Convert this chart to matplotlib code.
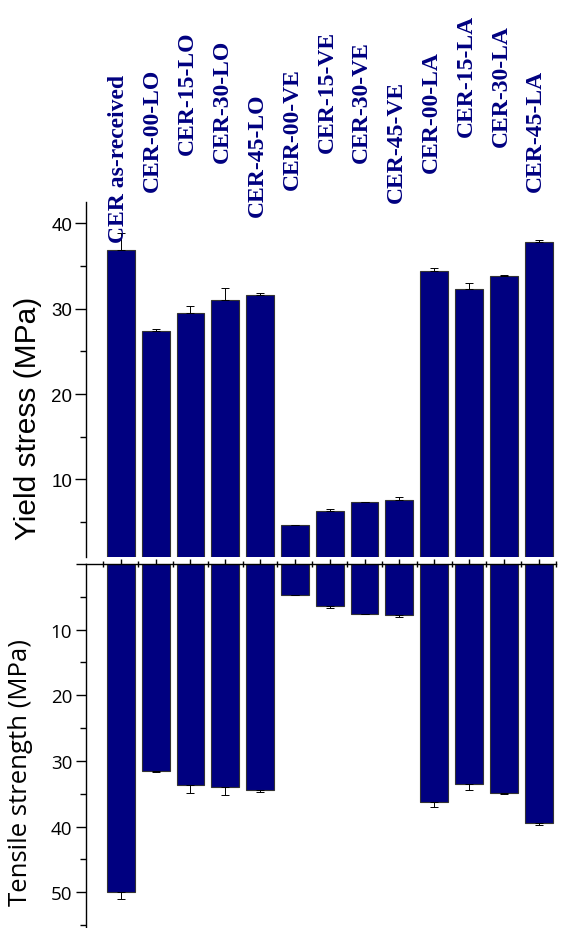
import numpy as np
import matplotlib
matplotlib.use("Agg")
import matplotlib.pyplot as plt
from matplotlib.ticker import FixedLocator, NullFormatter

## data

samples = ["CER as-received",
           "CER-00-LO", "CER-15-LO", "CER-30-LO", "CER-45-LO",
           "CER-00-VE", "CER-15-VE", "CER-30-VE", "CER-45-VE",
           "CER-00-LA", "CER-15-LA", "CER-30-LA", "CER-45-LA"]

yield_stress = [36.9, 27.35, 29.5, 31.07, 31.6, 4.6, 6.28, 7.3, 7.6, 34.4, 32.3, 33.8, 37.85]
yield_err    = [2.0, 0.25, 0.85, 1.3, 0.2, 0.05, 0.2, 0.05, 0.3, 0.4, 0.75, 0.2, 0.15]

tensile      = [50.0, 31.5, 33.6, 34.0, 34.45, 4.7, 6.34, 7.55, 7.8, 36.3, 33.5, 34.95, 39.4]
tensile_err  = [1.0, 0.25, 1.3, 1.2, 0.25, 0.05, 0.3, 0.05, 0.3, 0.7, 1.0, 0.15, 0.4]

# bottom end of each sample name, pixels from the top edge
label_bottom = [243, 192, 155, 163, 217, 190, 153, 163, 203, 173, 137, 147, 192]

## style

W, H, DPI = 565, 929, 100
navy = "#000080"
bar_w = 0.8

fig = plt.figure(figsize=(W / DPI, H / DPI), dpi=DPI)
left, right = 86 / W, 556 / W
ax1 = fig.add_axes([left, 1 - 558 / H, right - left, (558 - 203) / H])
ax2 = fig.add_axes([left, 1 - 928 / H, right - left, (928 - 565) / H])

x = np.arange(len(samples))
zeros = np.zeros(len(samples))

## yield stress (top)

ax1.bar(x, yield_stress, width=bar_w, color=navy, edgecolor="#333333", linewidth=0.8, zorder=2)
ax1.errorbar(x, yield_stress, yerr=[zeros, yield_err], fmt="none", ecolor="black",
             elinewidth=0.7, capsize=3, capthick=0.7, zorder=3)
ax1.set_xlim(-1, 12.5)
ax1.set_ylim(0.9, 42.5)
for s in ["top", "right", "bottom"]:
    ax1.spines[s].set_visible(False)
ax1.spines["left"].set_linewidth(1.0)
ax1.set_xticks([])
ax1.yaxis.set_major_locator(FixedLocator([10, 20, 30, 40]))
ax1.yaxis.set_minor_locator(FixedLocator([5, 15, 25, 35]))
ax1.tick_params(axis="y", which="major", direction="out", length=8, width=1.0, pad=2)
ax1.tick_params(axis="y", which="minor", direction="out", length=4, width=1.0)
for t in ax1.get_yticklabels():
    t.set_family("Liberation Sans")
    t.set_fontsize(13.5)
ax1.set_ylabel("Yield stress (MPa)", family="Liberation Sans", fontsize=21.5)
ax1.yaxis.set_label_coords(-44 / 470, 0.394)

## tensile strength (bottom, axis pointing down)

ax2.bar(x, tensile, width=bar_w, color=navy, edgecolor="#333333", linewidth=0.8, zorder=2)
ax2.errorbar(x, tensile, yerr=[zeros, tensile_err], fmt="none", ecolor="black",
             elinewidth=0.7, capsize=3, capthick=0.7, zorder=3)
ax2.set_xlim(-1, 12.5)
ax2.set_ylim(55.3, 0)
for s in ["right", "bottom"]:
    ax2.spines[s].set_visible(False)
ax2.spines["left"].set_linewidth(1.0)
ax2.spines["top"].set_linewidth(1.0)
ax2.xaxis.tick_top()
ax2.xaxis.set_major_locator(FixedLocator(x))
ax2.xaxis.set_minor_locator(FixedLocator(np.arange(-0.5, 12.6, 1.0)))
ax2.xaxis.set_major_formatter(NullFormatter())
ax2.tick_params(axis="x", which="major", direction="inout", length=7, width=1.0)
ax2.tick_params(axis="x", which="minor", direction="inout", length=5, width=1.0)
ax2.yaxis.set_major_locator(FixedLocator([0, 10, 20, 30, 40, 50]))
ax2.yaxis.set_minor_locator(FixedLocator([5, 15, 25, 35, 45, 55]))
ax2.set_yticklabels(["", "10", "20", "30", "40", "50"])
ax2.tick_params(axis="y", which="major", direction="out", length=7, width=1.0, pad=3)
ax2.tick_params(axis="y", which="minor", direction="out", length=4, width=1.0)
for t in ax2.get_yticklabels():
    t.set_family("Open Sans")
    t.set_fontsize(13.5)
ax2.set_ylabel("Tensile strength (MPa)", family="Open Sans", fontsize=18.5)
ax2.yaxis.set_label_coords(-53 / 470, 0.427)

## sample names above the bars

for i, name in enumerate(samples):
    ax1.annotate(name, xy=(i, H - label_bottom[i]), xycoords=("data", "figure pixels"),
                 xytext=(-2, 0), textcoords="offset points",
                 rotation=90, ha="center", va="bottom", color=navy,
                 family="Liberation Serif", fontweight="bold", fontsize=17,
                 annotation_clip=False, zorder=5)

fig.savefig("out.png", dpi=DPI)
